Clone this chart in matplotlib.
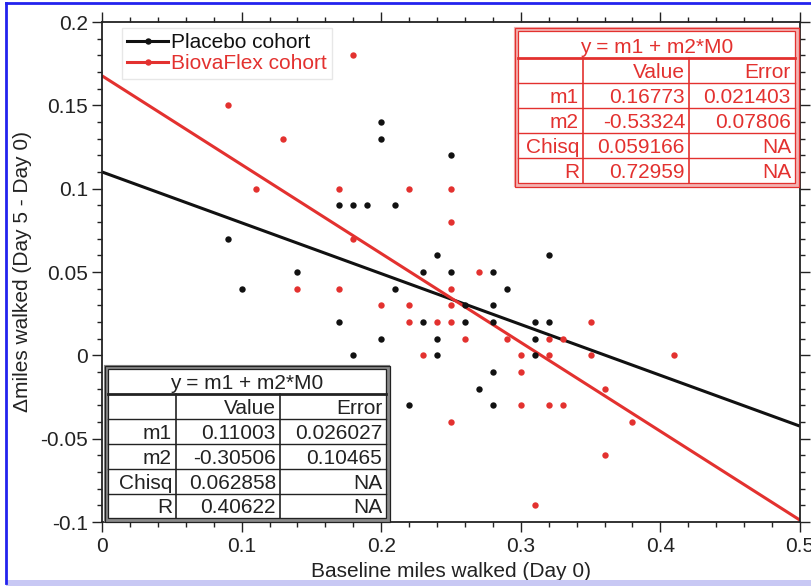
import matplotlib
matplotlib.use('Agg')
import matplotlib.pyplot as plt
from matplotlib.lines import Line2D
from matplotlib.patches import Rectangle
from matplotlib.ticker import MultipleLocator
import numpy as np

plt.rcParams['font.family'] = ['Liberation Sans', 'DejaVu Sans']

# ---------------- data ----------------
placebo_x = [0.09, 0.10, 0.14, 0.17, 0.18, 0.19, 0.21, 0.20, 0.20, 0.25, 0.17, 0.20,
             0.18, 0.21, 0.23, 0.24, 0.25, 0.23, 0.24, 0.24, 0.26, 0.26, 0.28, 0.28,
             0.28, 0.29, 0.22, 0.27, 0.28, 0.28, 0.31, 0.32, 0.31, 0.31, 0.32]
placebo_y = [0.07, 0.04, 0.05, 0.09, 0.09, 0.09, 0.09, 0.14, 0.13, 0.12, 0.02, 0.01,
             0.00, 0.04, 0.05, 0.06, 0.05, 0.02, 0.01, 0.00, 0.03, 0.02, 0.05, 0.03,
             0.02, 0.04, -0.03, -0.02, -0.01, -0.03, 0.02, 0.02, 0.01, 0.00, 0.06]

biova_x = [0.09, 0.13, 0.11, 0.17, 0.18, 0.22, 0.25, 0.25, 0.18, 0.14, 0.17, 0.27,
           0.25, 0.20, 0.22, 0.25, 0.22, 0.24, 0.25, 0.26, 0.29, 0.32, 0.33, 0.23,
           0.30, 0.32, 0.30, 0.30, 0.32, 0.33, 0.25, 0.31, 0.35, 0.35, 0.41, 0.36,
           0.38, 0.36]
biova_y = [0.15, 0.13, 0.10, 0.10, 0.18, 0.10, 0.10, 0.08, 0.07, 0.04, 0.04, 0.05,
           0.04, 0.03, 0.03, 0.03, 0.02, 0.02, 0.02, 0.01, 0.01, 0.01, 0.01, 0.00,
           0.00, 0.00, -0.01, -0.03, -0.03, -0.03, -0.04, -0.09, 0.02, 0.00, 0.00, -0.02,
           -0.04, -0.06]

series_names = ['Placebo cohort', 'BiovaFlex cohort']
fit_m1 = [0.11003, 0.16773]
fit_m2 = [-0.30506, -0.53324]

table_title = 'y = m1 + m2*M0'
table_header = ['', 'Value', 'Error']
table_rows = ['m1', 'm2', 'Chisq', 'R']
placebo_vals = ['0.11003', '-0.30506', '0.062858', '0.40622']
placebo_errs = ['0.026027', '0.10465', 'NA', 'NA']
biova_vals = ['0.16773', '-0.53324', '0.059166', '0.72959']
biova_errs = ['0.021403', '0.07806', 'NA', 'NA']

x_ticks = [0, 0.1, 0.2, 0.3, 0.4, 0.5]
x_ticklabels = ['0', '0.1', '0.2', '0.3', '0.4', '0.5']
y_ticks = [-0.1, -0.05, 0, 0.05, 0.1, 0.15, 0.2]
y_ticklabels = ['-0.1', '-0.05', '0', '0.05', '0.1', '0.15', '0.2']

x_label = 'Baseline miles walked (Day 0)'
y_label = '\u0394miles walked (Day 5 - Day 0)'

# ---------------- style ----------------
BLACK = '#111111'
RED = '#e3312f'
FS = 15

W, H = 811, 586
fig = plt.figure(figsize=(W / 100, H / 100), dpi=100)
fig.patch.set_facecolor('white')

ax = fig.add_axes([102 / W, 1 - 522 / H, 698 / W, 500 / H])
ax.set_xlim(0, 0.5)
ax.set_ylim(-0.1, 0.2)

xs = np.array([0.0, 0.5])
colors = [BLACK, RED]
for m1, m2, c in zip(fit_m1, fit_m2, colors):
    ax.plot(xs, m1 + m2 * xs, color=c, lw=2.2, zorder=2, solid_capstyle='butt')

ax.plot(placebo_x, placebo_y, 'o', ms=4.6, color=BLACK, mec='none', zorder=3)
ax.plot(biova_x, biova_y, 'o', ms=4.6, color=RED, mec='none', zorder=3)

ax.set_xticks(x_ticks)
ax.set_xticklabels(x_ticklabels)
ax.set_yticks(y_ticks)
ax.set_yticklabels(y_ticklabels)
ax.xaxis.set_minor_locator(MultipleLocator(0.02))
ax.yaxis.set_minor_locator(MultipleLocator(0.01))
ax.tick_params(which='both', direction='out', top=True, right=True,
               labelsize=FS, colors='#222222', width=1.0)
ax.tick_params(which='major', length=7)
ax.tick_params(which='minor', length=3.5)
ax.tick_params(axis='x', pad=4)
ax.tick_params(axis='y', pad=3)
for s in ax.spines.values():
    s.set_linewidth(1.3)
    s.set_color('#222222')

ax.set_xlabel(x_label, fontsize=FS, labelpad=4, color='#222222')
ax.set_ylabel(y_label, fontsize=FS, labelpad=6, color='#222222')

handles = [Line2D([], [], color=c, lw=2.2, marker='o', ms=4.6, mec='none') for c in colors]
leg = ax.legend(handles, series_names, loc='upper left',
                bbox_to_anchor=((122 - 102) / 698, (522 - 28) / 500),
                borderaxespad=0, fontsize=FS, frameon=True, fancybox=False,
                edgecolor='#e2e2e2', handlelength=1.95, handletextpad=0.15,
                labelspacing=0.1, borderpad=0.25, numpoints=1)
leg.get_frame().set_linewidth(1.0)
for t, c in zip(leg.get_texts(), colors):
    t.set_color(c)

# ---------------- overlay for tables ----------------
ov = fig.add_axes([0, 0, 1, 1], zorder=5)
ov.set_xlim(0, W)
ov.set_ylim(H, 0)
ov.axis('off')


def draw_table(x0, x1, col_lines, row_lines, line_c, text_c, frame_mid, vals, errs):
    y0, y1 = row_lines[0], row_lines[-1]
    ov.add_patch(Rectangle((x0 - 4, y0 - 4), (x1 - x0) + 8, (y1 - y0) + 8,
                           facecolor='white', edgecolor='none'))
    # double frame
    ov.add_patch(Rectangle((x0 - 2, y0 - 2), (x1 - x0) + 4, (y1 - y0) + 4,
                           facecolor='none', edgecolor=frame_mid, lw=3.0))
    ov.add_patch(Rectangle((x0 - 3.5, y0 - 3.5), (x1 - x0) + 7, (y1 - y0) + 7,
                           facecolor='none', edgecolor=line_c, lw=0.9))
    ov.add_patch(Rectangle((x0, y0), (x1 - x0), (y1 - y0),
                           facecolor='none', edgecolor=line_c, lw=0.9))
    for i, ry in enumerate(row_lines[1:-1]):
        ov.plot([x0, x1], [ry, ry], color=line_c, lw=2.0 if i == 0 else 1.0)
    for cx in col_lines:
        ov.plot([cx, cx], [row_lines[1], y1], color=line_c, lw=1.2)
    # title
    ov.text((x0 + x1) / 2, row_lines[1] - 5, table_title, ha='center', va='baseline',
            fontsize=FS, color=text_c)
    rights = [col_lines[0] - 4, col_lines[1] - 4, x1 - 4]
    ov.text(rights[1], row_lines[2] - 5, table_header[1], ha='right', va='baseline',
            fontsize=FS, color=text_c)
    ov.text(rights[2], row_lines[2] - 5, table_header[2], ha='right', va='baseline',
            fontsize=FS, color=text_c)
    for i, (lab, v, e) in enumerate(zip(table_rows, vals, errs)):
        yb = row_lines[3 + i] - 5
        ov.text(rights[0], yb, lab, ha='right', va='baseline', fontsize=FS, color=text_c)
        ov.text(rights[1], yb, v, ha='right', va='baseline', fontsize=FS, color=text_c)
        ov.text(rights[2], yb, e, ha='right', va='baseline', fontsize=FS, color=text_c)


# Placebo (black) table, lower left
draw_table(108, 386, [176, 280], [369, 394, 419, 444, 469, 494, 518],
           '#222222', '#222222', '#8a8a8a', placebo_vals, placebo_errs)
# BiovaFlex (red) table, upper right
draw_table(518, 795, [583, 689], [31, 58, 83, 108, 133, 158, 183],
           RED, RED, '#f2b4b3', biova_vals, biova_errs)

# outer blue frame (scan border)
ov.plot([6, 6], [3, 583], color='#2222ee', lw=2.0)
ov.plot([6, W], [3, 3], color='#2222ee', lw=2.0)
ov.add_patch(Rectangle((6, 580), W, 8, facecolor='#c8c8f4', edgecolor='none'))

fig.savefig('out.png', dpi=100, facecolor='white')
